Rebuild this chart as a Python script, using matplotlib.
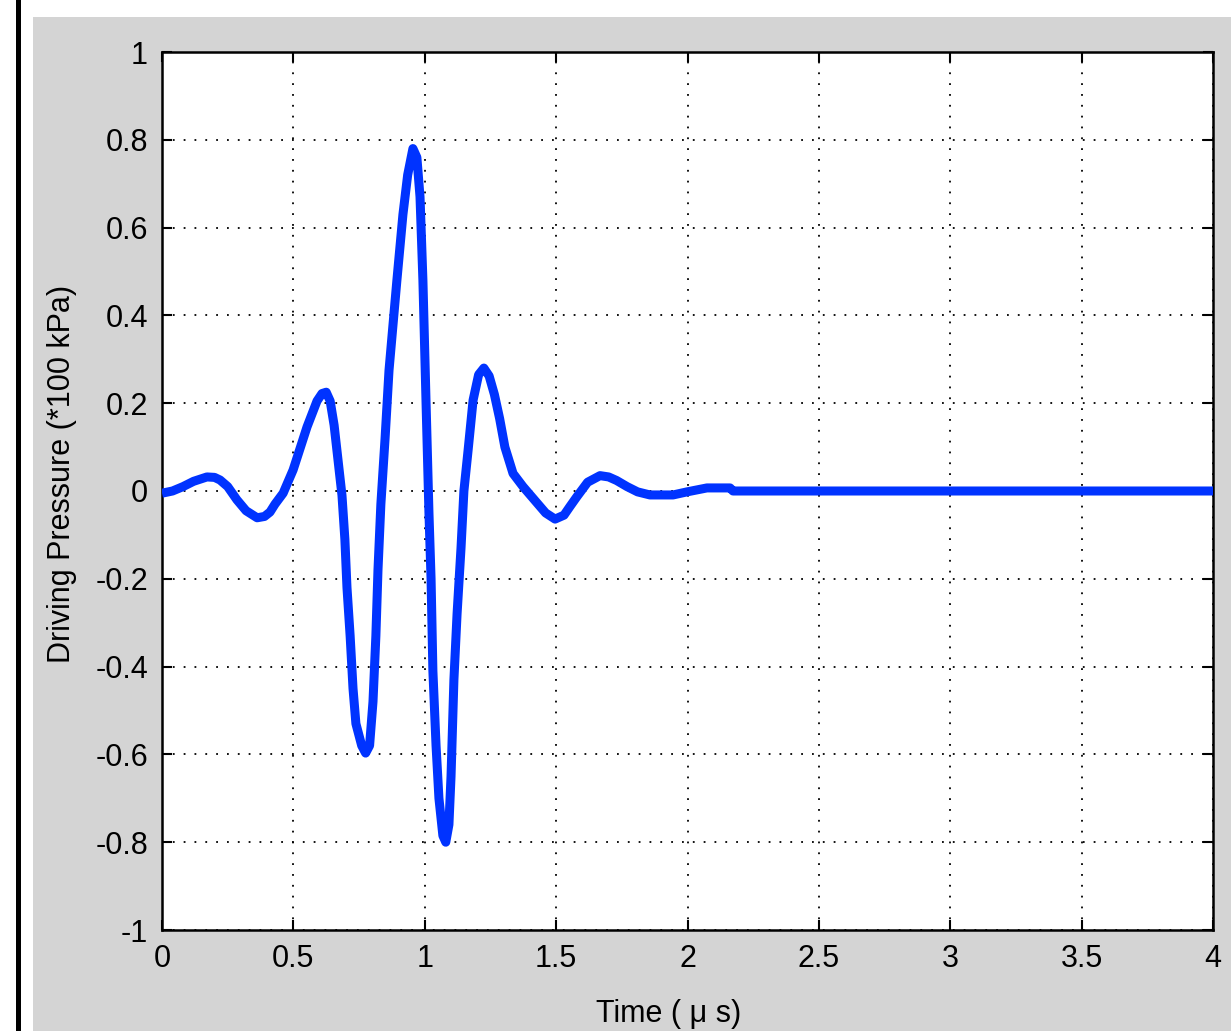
import numpy as np
import matplotlib.pyplot as plt
from matplotlib.patches import Rectangle
from matplotlib.lines import Line2D

# driving pressure pulse
t_us = [0.000, 0.040, 0.080, 0.120, 0.171, 0.200, 0.221, 0.250, 0.285, 0.320,
        0.362, 0.390, 0.411, 0.430, 0.461, 0.499, 0.552, 0.590, 0.609, 0.625,
        0.640, 0.655, 0.670, 0.685, 0.696, 0.704, 0.716, 0.727, 0.738, 0.760,
        0.775, 0.790, 0.803, 0.814, 0.822, 0.833, 0.849, 0.864, 0.894, 0.917,
        0.935, 0.955, 0.970, 0.982, 0.993, 1.005, 1.016, 1.024, 1.031, 1.043,
        1.054, 1.069, 1.080, 1.092, 1.100, 1.111, 1.123, 1.138, 1.149, 1.165,
        1.184, 1.205, 1.225, 1.245, 1.265, 1.285, 1.305, 1.336, 1.374, 1.427,
        1.460, 1.496, 1.530, 1.553, 1.579, 1.620, 1.667, 1.700, 1.730, 1.770,
        1.810, 1.857, 1.945, 1.998, 2.074, 2.162, 2.173, 2.5, 3.0, 3.5, 4.0]
p_drive = [-0.005, 0.000, 0.010, 0.022, 0.032, 0.031, 0.025, 0.010, -0.020, -0.045,
           -0.061, -0.058, -0.048, -0.030, -0.005, 0.048, 0.146, 0.205, 0.222, 0.225,
           0.205, 0.150, 0.070, -0.010, -0.110, -0.220, -0.330, -0.450, -0.530, -0.580,
           -0.597, -0.580, -0.480, -0.330, -0.180, -0.030, 0.120, 0.275, 0.480, 0.630,
           0.720, 0.780, 0.760, 0.670, 0.480, 0.200, -0.050, -0.200, -0.410, -0.580,
           -0.700, -0.785, -0.800, -0.760, -0.650, -0.430, -0.280, -0.130, 0.000, 0.093,
           0.207, 0.265, 0.280, 0.262, 0.220, 0.165, 0.100, 0.040, 0.010, -0.027,
           -0.050, -0.064, -0.055, -0.035, -0.013, 0.020, 0.035, 0.032, 0.024, 0.010,
           -0.002, -0.009, -0.009, -0.002, 0.007, 0.007, 0.000, 0.0, 0.0, 0.0, 0.0]

x_ticks = [0, 0.5, 1, 1.5, 2, 2.5, 3, 3.5, 4]
x_labels = ['0', '0.5', '1', '1.5', '2', '2.5', '3', '3.5', '4']
y_ticks = [-1, -0.8, -0.6, -0.4, -0.2, 0, 0.2, 0.4, 0.6, 0.8, 1]
y_labels = ['-1', '-0.8', '-0.6', '-0.4', '-0.2', '0', '0.2', '0.4', '0.6', '0.8', '1']

plt.rcParams['font.family'] = ['Liberation Sans', 'DejaVu Sans']
W, H = 1231, 1031
fig = plt.figure(figsize=(W/100, H/100), dpi=100, facecolor='white')

# grey window panel and black border line
fig.add_artist(Rectangle((33/W, 0), 1 - 33/W, 1 - 17/H, transform=fig.transFigure,
                         facecolor='#d4d4d4', edgecolor='none', zorder=0))
fig.add_artist(Line2D([17.5/W, 17.5/W], [0, 1], transform=fig.transFigure,
                      color='black', lw=3.6, zorder=1))

ax = fig.add_axes([162/W, 1 - 930/H, (1213 - 162)/W, (930 - 52)/H])
ax.set_facecolor('white')
ax.plot(t_us, p_drive, color='#0033ff', lw=6.5, solid_joinstyle='round',
        solid_capstyle='butt', zorder=3)

ax.set_xlim(0, 4)
ax.set_ylim(-1, 1)
ax.set_xticks(x_ticks)
ax.set_xticklabels(x_labels)
ax.set_yticks(y_ticks)
ax.set_yticklabels(y_labels)
ax.grid(True, color='black', linestyle=(0, (1, 5)), lw=1.3)
ax.tick_params(direction='in', length=7, width=1.5, top=True, right=True,
               labelsize=22, pad=10)
for s in ax.spines.values():
    s.set_linewidth(1.8)

ax.set_xlabel('Time ( μ s)', fontsize=22)
ax.xaxis.set_label_coords(0.482, -0.079)
ax.set_ylabel('Driving Pressure (*100 kPa)', fontsize=22)
ax.yaxis.set_label_coords(-0.095, 0.52)
ax.yaxis.label.set_va('center')

fig.savefig('out.png', dpi=100, facecolor='white')
